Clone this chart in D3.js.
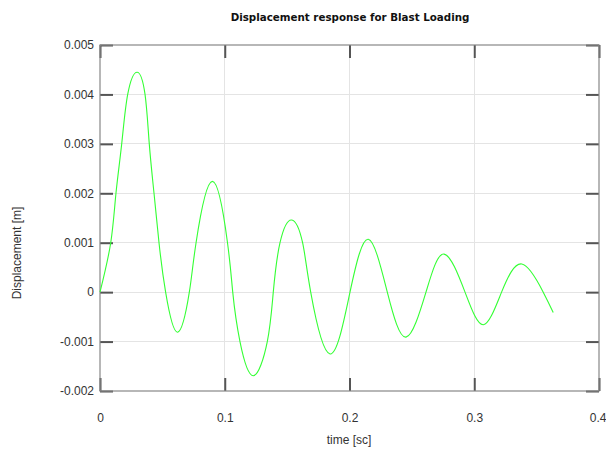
<!DOCTYPE html>
<html><head><meta charset="utf-8">
<script src="https://cdn.jsdelivr.net/npm/d3@7"></script>
<style>body{margin:0;background:#fff;} svg{display:block;}</style>
</head><body>
<svg id="c" width="606" height="449"></svg>
<script>
const timeValues = [0,0.0086,0.0128,0.0174,0.0222,0.0297,0.0361,0.0395,0.0433,0.0473,0.0526,0.0622,0.0716,0.0770,0.0901,0.1022,0.1064,0.1122,0.1229,0.1341,0.1389,0.1443,0.1537,0.1624,0.1689,0.1844,0.2004,0.2151,0.2303,0.2453,0.2613,0.2758,0.2926,0.3073,0.3219,0.3381,0.3553,0.3633];
const displacementValues = [0,0.001,0.002,0.003,0.004,0.00445,0.004,0.003,0.002,0.001,0,-0.00081,0,0.001,0.00224,0.001,0,-0.001,-0.00169,-0.001,0,0.001,0.00146,0.001,0,-0.00125,0,0.00107,0,-0.00091,0,0.00077,0,-0.00066,0,0.00057,0,-0.00041];
const xTicks = [0,0.1,0.2,0.3,0.4];
const xTickLabels = ["0","0.1","0.2","0.3","0.4"];
const yTicks = [-0.002,-0.001,0,0.001,0.002,0.003,0.004,0.005];
const yTickLabels = ["-0.002","-0.001","0","0.001","0.002","0.003","0.004","0.005"];
const titleText = "Displacement response for Blast Loading";
const xLabel = "time [sc]";
const yLabel = "Displacement [m]";

const svg = d3.select("#c");
const L = 100, R = 599, T = 45, B = 391;
const x = d3.scaleLinear().domain([0,0.4]).range([L,R]);
const y = d3.scaleLinear().domain([-0.002,0.005]).range([B,T]);
const axisCol = "#555";
const font = "'Liberation Sans', Arial, sans-serif";

svg.append("g").selectAll("line").data(xTicks.slice(1,-1)).join("line")
  .attr("x1",d=>x(d)).attr("x2",d=>x(d)).attr("y1",T).attr("y2",B)
  .attr("stroke","#e4e4e4").attr("stroke-width",1).attr("shape-rendering","crispEdges");
svg.append("g").selectAll("line").data(yTicks.slice(1,-1)).join("line")
  .attr("y1",d=>y(d)).attr("y2",d=>y(d)).attr("x1",L).attr("x2",R)
  .attr("stroke","#e4e4e4").attr("stroke-width",1).attr("shape-rendering","crispEdges");

function styleAxis(g){
  g.select(".domain").remove();
  g.selectAll(".tick line").attr("stroke",axisCol).attr("stroke-width",2);
  g.selectAll(".tick text").attr("fill","#333").attr("font-family",font).attr("font-size",12);
}
svg.append("g").attr("transform",`translate(0,${B})`)
  .call(d3.axisBottom(x).tickValues(xTicks).tickFormat((d,i)=>xTickLabels[i]).tickSizeInner(-13).tickPadding(22))
  .call(styleAxis)
  .call(g=>g.selectAll(".tick text").filter((d,i)=>i===xTicks.length-1).attr("text-anchor","end").attr("dx",7));
svg.append("g").attr("transform",`translate(0,${T})`)
  .call(d3.axisTop(x).tickValues(xTicks).tickFormat("").tickSizeInner(-13))
  .call(styleAxis);
svg.append("g").attr("transform",`translate(${L},0)`)
  .call(d3.axisLeft(y).tickValues(yTicks).tickFormat((d,i)=>yTickLabels[i]).tickSizeInner(-13).tickPadding(6))
  .call(styleAxis);
svg.append("g").attr("transform",`translate(${R},0)`)
  .call(d3.axisRight(y).tickValues(yTicks).tickFormat("").tickSizeInner(-13))
  .call(styleAxis);

svg.append("rect").attr("x",L).attr("y",T).attr("width",R-L).attr("height",B-T)
  .attr("fill","none").attr("stroke","#888").attr("stroke-width",1.2);

const pts = timeValues.map((t,i)=>[t,displacementValues[i]]);
svg.append("path").datum(pts)
  .attr("d",d3.line().x(d=>x(d[0])).y(d=>y(d[1])).curve(d3.curveNatural))
  .attr("fill","none").attr("stroke","#33ff33").attr("stroke-width",1.1);

svg.append("text").attr("x",350).attr("y",21).attr("text-anchor","middle")
  .attr("font-family","'DejaVu Sans', Verdana, sans-serif").attr("font-weight","bold").attr("font-size",10.3)
  .attr("fill","#111").text(titleText);
svg.append("text").attr("x",349).attr("y",444).attr("text-anchor","middle")
  .attr("font-family",font).attr("font-size",12).attr("fill","#333").text(xLabel);
svg.append("text").attr("transform","translate(21,253) rotate(-90)").attr("text-anchor","middle")
  .attr("font-family",font).attr("font-size",12).attr("fill","#333").text(yLabel);
</script>
</body></html>
